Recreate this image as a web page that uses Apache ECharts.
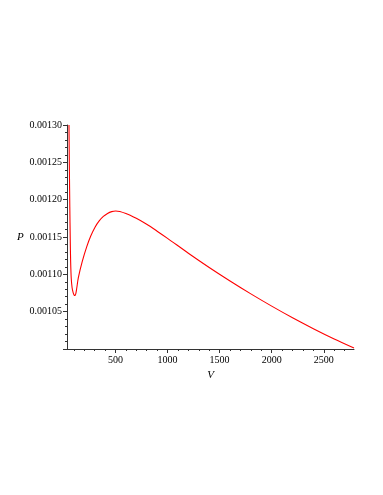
<!DOCTYPE html>
<html>
<head>
<meta charset="utf-8">
<script src="https://cdn.jsdelivr.net/npm/echarts@6/dist/echarts.min.js"></script>
<style>
  html, body { margin: 0; padding: 0; background: #fff; }
  #chart { width: 383px; height: 495px; }
</style>
</head>
<body>
<div id="chart"></div>
<script>
// values
var volume = [54, 58, 62, 66, 70, 76, 84, 94, 104, 112, 120, 128, 144, 181, 224, 264, 304, 344,
  384, 424, 464, 503, 600, 700, 800, 900, 1000, 1200, 1400, 1600, 1800, 2000, 2200, 2400, 2600, 2790];
var pressure = [0.001300, 0.001240, 0.001190, 0.001148, 0.001117, 0.001094, 0.001082, 0.0010755,
  0.0010722, 0.0010716, 0.0010745, 0.001081, 0.0010955, 0.001117, 0.0011368, 0.0011516, 0.0011632,
  0.0011716, 0.0011776, 0.0011816, 0.0011840, 0.0011848, 0.0011815, 0.0011750, 0.0011670,
  0.0011578, 0.0011482, 0.0011283, 0.0011092, 0.0010911, 0.0010738, 0.0010574, 0.0010418,
  0.0010272, 0.0010134, 0.0010013];
var xMajorTicks = [500, 1000, 1500, 2000, 2500];
var xMinorTicks = [100, 200, 300, 400, 600, 700, 800, 900, 1100, 1200, 1300, 1400, 1600, 1700,
  1800, 1900, 2100, 2200, 2300, 2400, 2600, 2700];

var font = "Liberation Serif";
var axisColor = "#333";

var chart = echarts.init(document.getElementById("chart"), null, { renderer: "canvas" });

var points = volume.map(function (v, i) {
  return [v, pressure[i]];
});

var option = {
  animation: false,
  grid: { left: 67, right: 29, top: 125, bottom: 146 },
  xAxis: [
    {
      type: "value",
      min: 35,
      max: 2790,
      position: "bottom",
      name: "V",
      nameLocation: "middle",
      nameGap: 21,
      nameTextStyle: { fontFamily: font, fontStyle: "italic", fontSize: 11, color: "#000" },
      axisLine: { show: true, lineStyle: { color: axisColor, width: 1 } },
      axisTick: { show: true, customValues: xMajorTicks, length: 4, lineStyle: { color: axisColor } },
      axisLabel: {
        customValues: xMajorTicks,
        fontFamily: font,
        fontSize: 10,
        color: "#000",
        margin: 6,
        formatter: function (v) {
          return String(v);
        },
      },
      splitLine: { show: false },
    },
    {
      type: "value",
      min: 35,
      max: 2790,
      position: "bottom",
      axisLine: { show: false },
      axisTick: { show: true, customValues: xMinorTicks, length: 2, lineStyle: { color: axisColor } },
      axisLabel: { show: false },
      splitLine: { show: false },
    },
  ],
  yAxis: {
    type: "value",
    min: 0.001,
    max: 0.0013,
    interval: 0.00005,
    name: "P",
    nameLocation: "middle",
    nameRotate: 0,
    nameGap: 43,
    nameTextStyle: { fontFamily: font, fontStyle: "italic", fontSize: 11, color: "#000" },
    axisLine: { show: true, lineStyle: { color: axisColor, width: 1 } },
    axisTick: { show: true, length: 4, lineStyle: { color: axisColor } },
    minorTick: { show: true, splitNumber: 5, length: 2, lineStyle: { color: axisColor } },
    axisLabel: {
      fontFamily: font,
      fontSize: 10,
      color: "#000",
      margin: 5,
      formatter: function (v) {
        if (v < 0.0010001) return "";
        return v.toFixed(5);
      },
    },
    splitLine: { show: false },
    minorSplitLine: { show: false },
  },
  series: [
    {
      type: "line",
      xAxisIndex: 0,
      data: points,
      smooth: 0.3,
      showSymbol: false,
      clip: true,
      lineStyle: { color: "#ff0000", width: 1.1 },
    },
  ],
};

chart.setOption(option);
</script>
</body>
</html>
